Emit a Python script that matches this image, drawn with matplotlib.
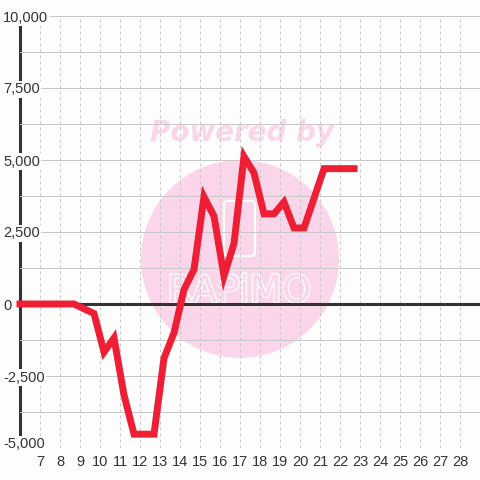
import matplotlib
matplotlib.use("Agg")
import matplotlib.pyplot as plt
from matplotlib.patches import Ellipse, FancyBboxPatch, Rectangle
from matplotlib.ticker import FixedLocator, FuncFormatter
import matplotlib.patheffects as pe

# ---- data ----
x_vals = [6, 7.2, 7.7, 8.2, 8.7, 9.7, 10.2, 10.7, 11.2, 11.7, 12.2, 12.7, 13.2, 13.7,
          14.2, 14.7, 15.2, 15.7, 16.2, 16.7, 17.2, 17.7, 18.2, 18.7, 19.2, 19.7,
          20.2, 21.2, 21.7, 22.2, 22.7]
y_vals = [0, 0, 0, 0, 0, -330, -1670, -1180, -3160, -4520, -4520, -4520, -1880, -1000,
          500, 1200, 3720, 3050, 970, 2100, 5120, 4550, 3130, 3130, 3540, 2640,
          2640, 4700, 4700, 4700, 4700]
x_ticks = list(range(7, 29))
y_ticks = [-5000, -2500, 0, 2500, 5000, 7500, 10000]
y_minor = [-3750, -1250, 1250, 3750, 6250, 8750]

BG = "#fcfdfc"
GRID = "#c8c8c8"
RED = "#ee1f35"
DARK = "#333333"
PINK = "#fbd6ea"

plt.rcParams['font.family'] = ['Liberation Sans', 'DejaVu Sans']

fig = plt.figure(figsize=(4.8, 4.8), dpi=100, facecolor=BG)
ax = fig.add_axes([20/480, 32/480, 460/480, 432/480])
ax.set_facecolor(BG)
ax.set_xlim(6, 29)
ax.set_ylim(-5000, 10000)

for s in ax.spines.values():
    s.set_visible(False)

# watermark (pixel-based positions converted to axes fractions)
def ax_frac(px, py):
    return ((px - 20) / 460, (448 - py) / 432)

circ = Ellipse(ax_frac(240, 259), 198/460, 198/432, transform=ax.transAxes,
               facecolor=PINK, edgecolor='none', zorder=0.2)
ax.add_patch(circ)
ax.text(*ax_frac(242, 133), "Powered by", transform=ax.transAxes, ha='center', va='center',
        fontsize=20, fontweight='bold', fontstyle='oblique', family='DejaVu Sans',
        color=PINK, zorder=0.3)
lx, ly = ax_frac(224, 256)
logo = FancyBboxPatch((lx, ly), 31/460, 55/432,
                      boxstyle="round,pad=0,rounding_size=0.008",
                      transform=ax.transAxes, facecolor='none', edgecolor='white',
                      linewidth=1.5, zorder=0.3)
ax.add_patch(logo)
ax.text(*ax_frac(239, 292), "RAPiMO", transform=ax.transAxes, ha='center', va='center',
        fontsize=27, family='DejaVu Sans', color=PINK, zorder=0.3,
        path_effects=[pe.withStroke(linewidth=1.8, foreground='white')])

# ticks & grid
ax.xaxis.set_major_locator(FixedLocator(x_ticks))
ax.yaxis.set_major_locator(FixedLocator(y_ticks))
ax.yaxis.set_minor_locator(FixedLocator(y_minor))
ax.yaxis.set_major_formatter(FuncFormatter(lambda v, p: f"{int(v):,}"))
ax.grid(axis='x', which='major', color=GRID, linestyle=(0, (3, 3)), linewidth=0.72)
ax.grid(axis='y', which='both', color=GRID, linestyle='-', linewidth=0.72)
ax.xaxis.set_zorder(1.5)
ax.yaxis.set_zorder(1.6)

ax.tick_params(axis='both', which='both', length=0, labelsize=10.5, labelcolor=DARK)
ax.tick_params(axis='x', pad=5)
ax.tick_params(axis='y', pad=12.24)
for lbl in ax.get_yticklabels():
    lbl.set_horizontalalignment('left')
    lbl.set_bbox(dict(facecolor=BG, edgecolor='none', pad=1.0))
    if lbl.get_text() == '-5,000':
        lbl.set_verticalalignment('baseline')

# axis lines
ax.axvline(6, color=DARK, linewidth=2.2, zorder=1.55, clip_on=False)
ax.axhline(0, color=DARK, linewidth=2.2, zorder=1.7)

# series
ax.plot(x_vals, y_vals, color=RED, linewidth=5.0, solid_capstyle='projecting',
        solid_joinstyle='miter', zorder=3, clip_on=False)

fig.savefig("out.png", dpi=100, facecolor=BG)
